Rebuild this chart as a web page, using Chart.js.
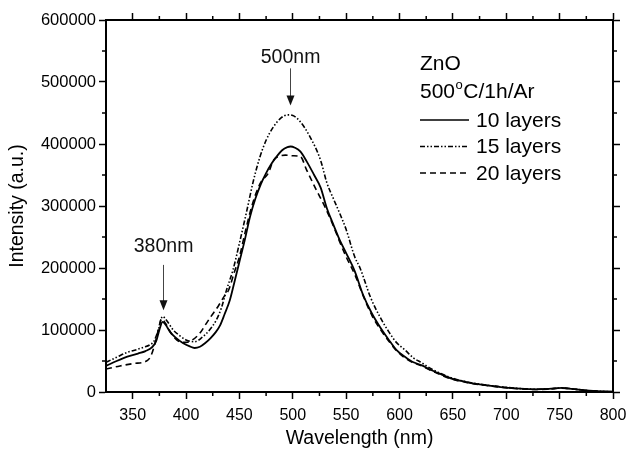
<!DOCTYPE html>
<html>
<head>
<meta charset="utf-8">
<script src="https://cdn.jsdelivr.net/npm/chart.js@4"></script>
<style>
  body { margin: 0; background: #fff; }
  #wrap { width: 628px; height: 450px; }
</style>
</head>
<body>
<div id="wrap"><canvas id="myChart" width="628" height="450"></canvas></div>
<script>
// data (wavelength in nm, intensity in a.u.)
var wl10 = [325, 335, 345, 355, 362, 368, 372, 375, 378, 381, 385, 390, 397, 403, 408, 413, 418, 423, 428, 432, 436, 441, 445, 450, 455, 460, 465, 470, 475, 480, 485, 490, 495, 498, 502, 507, 513, 520, 526, 532, 538, 544, 550, 558, 566, 574, 582, 590, 597, 605, 613, 621, 630, 637, 645, 652, 660, 670, 682, 697, 713, 728, 740, 752, 762, 775, 790, 800];
var int10 = [42000, 50000, 57000, 62000, 66000, 72000, 82000, 100000, 113000, 108000, 97000, 88000, 79000, 74000, 71000, 73000, 79000, 87000, 97000, 108000, 125000, 148000, 175000, 210000, 245000, 283000, 312000, 335000, 353000, 368000, 380000, 390000, 395000, 396000, 394000, 388000, 372000, 350000, 330000, 296000, 270000, 245000, 224000, 195000, 156000, 127000, 104000, 84000, 68000, 57000, 48000, 43000, 35000, 30000, 24000, 20000, 17000, 13500, 10800, 7600, 5300, 4300, 5000, 6500, 5000, 2500, 1000, 500];

var wl15 = [325, 335, 345, 351, 360, 366, 370, 374, 378, 382, 388, 394, 400, 408, 415, 422, 428, 433, 438, 444, 450, 457, 463, 469, 475, 482, 489, 495, 500, 507, 516, 526, 532, 538, 544, 550, 558, 563, 573, 582, 590, 597, 605, 613, 621, 630, 637, 645, 652, 660, 670, 682, 697, 713, 728, 740, 752, 762, 775, 790, 800];
var int15 = [48000, 56000, 64000, 67000, 72000, 76000, 82000, 100000, 122000, 115000, 100000, 91000, 84000, 81000, 88000, 100000, 115000, 135000, 165000, 197000, 240000, 293000, 340000, 378000, 406000, 428000, 442000, 447000, 446000, 436000, 412000, 374000, 337000, 312000, 288000, 262000, 218000, 200000, 152000, 120000, 97000, 80000, 68000, 55000, 47000, 37000, 31000, 25000, 21000, 17500, 14000, 11000, 8000, 5500, 4500, 5000, 6500, 5000, 2500, 1000, 500];

var wl20 = [325, 338, 351, 363, 367, 371, 374, 377, 381, 387, 394, 400, 406, 413, 418, 423, 430, 436, 440, 445, 450, 455, 460, 465, 470, 477, 482, 487, 493, 500, 507, 513, 522, 530, 538, 544, 550, 558, 566, 574, 582, 590, 597, 605, 613, 621, 630, 637, 645, 652, 660, 670, 682, 697, 713, 728, 740, 752, 762, 775, 790, 800];
var int20 = [37000, 42000, 46000, 50000, 58000, 79000, 100000, 118000, 110000, 92000, 81000, 80000, 84000, 95000, 108000, 121000, 138000, 155000, 165000, 192000, 218000, 255000, 290000, 318000, 338000, 353000, 374000, 380000, 382000, 381000, 380000, 358000, 326000, 299000, 268000, 242000, 218000, 190000, 155000, 124000, 101000, 82000, 67000, 55000, 47000, 42000, 34000, 29000, 23000, 19500, 16500, 13000, 10500, 7400, 5000, 4000, 4800, 6200, 4800, 2300, 900, 400];

var seriesNames = ['10 layers', '15 layers', '20 layers'];
var xTicks = [350, 400, 450, 500, 550, 600, 650, 700, 750, 800];
var xMinor = [375, 425, 475, 525, 575, 625, 675, 725, 775];
var yTicks = [0, 100000, 200000, 300000, 400000, 500000, 600000];
var yMinor = [50000, 150000, 250000, 350000, 450000, 550000];

var FONT = '"Liberation Sans", Arial, sans-serif';

function pts(xs, ys) {
    return xs.map(function (x, i) { return { x: x, y: ys[i] }; });
}

var dashes = [[], [5, 2, 1.5, 2, 1.5, 2], [6, 4]];

// minor ticks, annotations and the in-plot legend
var extras = {
    id: 'extras',
    afterDraw: function (chart) {
        var ctx = chart.ctx;
        var sx = chart.scales.x, sy = chart.scales.y;
        var a = chart.chartArea;
        ctx.save();
        ctx.strokeStyle = '#000';
        ctx.lineWidth = 1.5;
        ctx.beginPath();
        xMinor.forEach(function (v) {
            var px = sx.getPixelForValue(v);
            ctx.moveTo(px, a.bottom); ctx.lineTo(px, a.bottom + 4);
            ctx.moveTo(px, a.top); ctx.lineTo(px, a.top - 4);
        });
        yMinor.forEach(function (v) {
            var py = sy.getPixelForValue(v);
            ctx.moveTo(a.left, py); ctx.lineTo(a.left - 4, py);
            ctx.moveTo(a.right, py); ctx.lineTo(a.right + 4, py);
        });
        ctx.stroke();

        // arrows with labels
        function arrow(wl, textV, fromV, toV, label) {
            var px = Math.round(sx.getPixelForValue(wl)) + 0.5;
            var y1 = sy.getPixelForValue(fromV), y2 = sy.getPixelForValue(toV);
            ctx.strokeStyle = '#444';
            ctx.lineWidth = 1;
            ctx.beginPath();
            ctx.moveTo(px, y1); ctx.lineTo(px, y2 - 8);
            ctx.stroke();
            ctx.fillStyle = '#111';
            ctx.beginPath();
            ctx.moveTo(px - 4, y2 - 10); ctx.lineTo(px + 4, y2 - 10); ctx.lineTo(px, y2);
            ctx.closePath();
            ctx.fill();
            ctx.font = '19.5px ' + FONT;
            ctx.textAlign = 'center';
            ctx.textBaseline = 'middle';
            ctx.fillText(label, sx.getPixelForValue(wl) + 1, sy.getPixelForValue(textV));
        }
        arrow(378, 234000, 205000, 132000, '380nm');
        arrow(497, 539000, 522000, 462000, '500nm');

        // legend
        ctx.fillStyle = '#000';
        ctx.textAlign = 'left';
        ctx.textBaseline = 'middle';
        ctx.font = '21px ' + FONT;
        var lx = 420;
        ctx.fillText('ZnO', lx, 64);
        var w = ctx.measureText('500').width;
        ctx.fillText('500', lx, 92);
        ctx.font = '13px ' + FONT;
        ctx.fillText('o', lx + w + 0.5, 85);
        var w2 = ctx.measureText('o').width;
        ctx.font = '21px ' + FONT;
        ctx.fillText('C/1h/Ar', lx + w + w2 + 1, 92);
        seriesNames.forEach(function (name, i) {
            var yy = 120 + i * 26.5;
            ctx.strokeStyle = '#000';
            ctx.lineWidth = 1.6;
            ctx.setLineDash(dashes[i]);
            ctx.beginPath();
            ctx.moveTo(lx, yy); ctx.lineTo(lx + 49, yy);
            ctx.stroke();
            ctx.setLineDash([]);
            ctx.fillText(name, lx + 56, yy + 1);
        });
        ctx.restore();
    }
};

function setTicks(list) {
    return function (scale) {
        scale.ticks = list.map(function (v) { return { value: v }; });
    };
}

var gridOpts = {
    drawOnChartArea: false,
    drawTicks: true,
    tickLength: 7,
    tickColor: '#000',
    tickWidth: 1.5
};
var borderOpts = { display: true, color: '#000', width: 2 };

var ctx = document.getElementById('myChart').getContext('2d');
var myChart = new Chart(ctx, {
    type: 'line',
    data: {
        datasets: [
            { label: seriesNames[0], data: pts(wl10, int10) },
            { label: seriesNames[1], data: pts(wl15, int15) },
            { label: seriesNames[2], data: pts(wl20, int20) }
        ].map(function (d, i) {
            d.borderColor = '#000';
            d.borderWidth = i === 0 ? 1.8 : 1.6;
            d.borderDash = dashes[i];
            d.pointRadius = 0;
            d.fill = false;
            d.cubicInterpolationMode = 'monotone';
            return d;
        })
    },
    options: {
        responsive: false,
        animation: false,
        layout: { padding: 0 },
        plugins: {
            legend: { display: false },
            tooltip: { enabled: false }
        },
        scales: {
            x: {
                type: 'linear',
                position: 'bottom',
                min: 325, max: 800,
                afterBuildTicks: setTicks(xTicks),
                afterFit: function (s) { s.height = 58; s.paddingRight = 0; s.paddingLeft = 0; },
                ticks: { color: '#000', font: { family: FONT, size: 16 }, padding: 7, maxRotation: 0 },
                grid: gridOpts,
                border: borderOpts,
                title: { display: true, text: 'Wavelength (nm)', color: '#000', font: { family: FONT, size: 19.5 }, padding: { top: 0, bottom: 0 } }
            },
            x2: {
                type: 'linear',
                position: 'top',
                min: 325, max: 800,
                afterBuildTicks: setTicks(xTicks),
                afterFit: function (s) { s.height = 20; s.paddingRight = 0; s.paddingLeft = 0; },
                ticks: { display: false },
                grid: gridOpts,
                border: borderOpts
            },
            y: {
                type: 'linear',
                position: 'left',
                min: 0, max: 600000,
                afterBuildTicks: setTicks(yTicks),
                afterFit: function (s) { s.width = 106; s.paddingTop = 0; s.paddingBottom = 0; },
                ticks: { color: '#000', font: { family: FONT, size: 16.5 }, padding: 3, callback: function (v) { return String(v); } },
                grid: gridOpts,
                border: borderOpts,
                title: { display: true, text: 'Intensity (a.u.)', color: '#000', font: { family: FONT, size: 19.5 }, padding: { top: 6, bottom: 0 } }
            },
            y2: {
                type: 'linear',
                position: 'right',
                min: 0, max: 600000,
                afterBuildTicks: setTicks(yTicks),
                afterFit: function (s) { s.width = 15; s.paddingTop = 0; s.paddingBottom = 0; },
                ticks: { display: false },
                grid: gridOpts,
                border: borderOpts
            }
        }
    },
    plugins: [extras]
});
</script>
</body>
</html>
